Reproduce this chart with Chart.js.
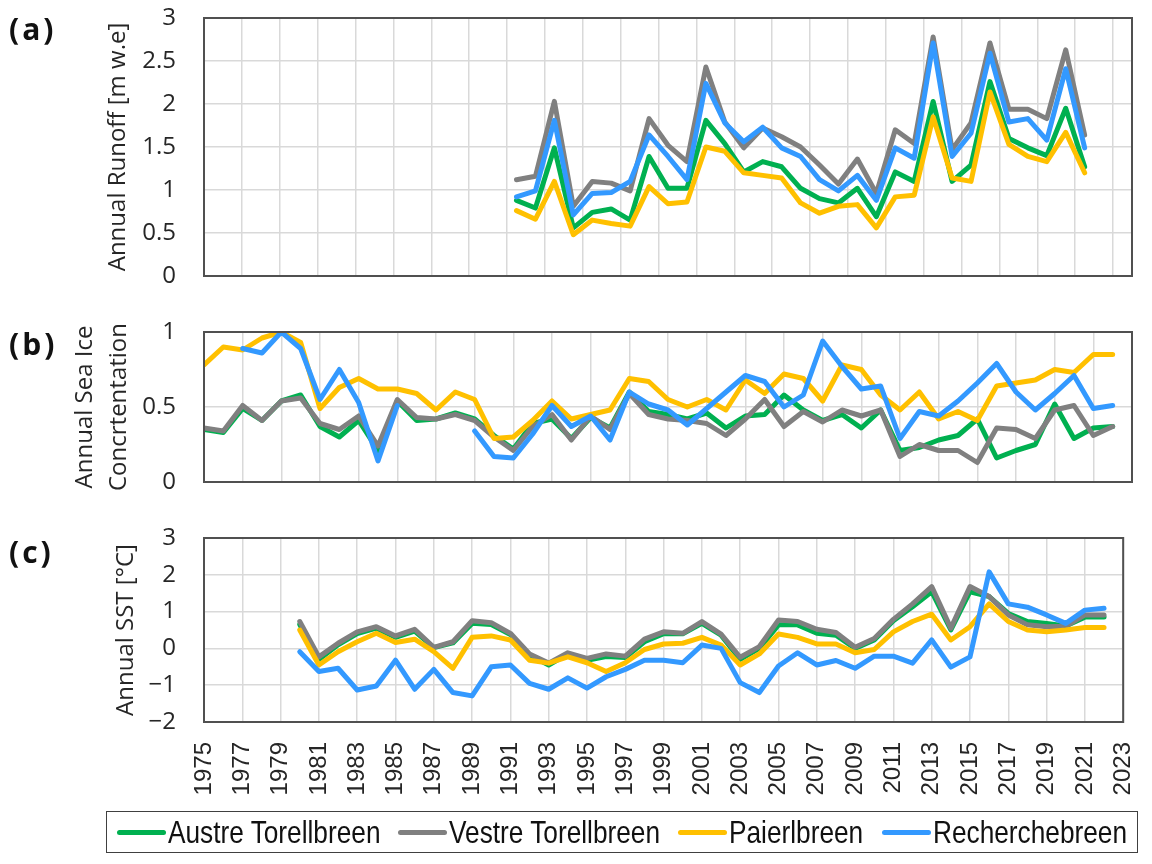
<!DOCTYPE html>
<html>
<head>
<meta charset="utf-8">
<script src="https://cdn.jsdelivr.net/npm/chart.js@4.4.1/dist/chart.umd.min.js"></script>
<style>
  body { margin: 0; background: #fff; }
  #wrap { position: relative; width: 1152px; height: 864px; overflow: hidden; }
  canvas { position: absolute; left: 0; }
  .panel { position: absolute; left: 9px; font: bold 30px "Open Sans", sans-serif; letter-spacing: 3px; line-height: 30px; color: #111; }
  #legend { position: absolute; left: 106px; top: 811px; width: 1030px; height: 40px; border: 1.5px solid #404040;
            display: flex; align-items: center; justify-content: center; }
  .item { display: flex; align-items: center; margin: 0 9px; font: 32px "Liberation Sans", Arial, sans-serif; color: #111; white-space: nowrap; }
  .swatch { width: 49px; height: 5px; border-radius: 3px; margin-right: 2px; }
  .txt { display: inline-block; overflow: visible; }
  .inner { display: inline-block; transform: scaleX(0.82); transform-origin: 0 50%; }
</style>
</head>
<body>
<div id="wrap">
  <canvas id="runoffChart" width="1152" height="292" style="top:0"></canvas>
  <canvas id="iceChart" width="1152" height="200" style="top:300px"></canvas>
  <canvas id="sstChart" width="1152" height="300" style="top:520px"></canvas>
  <div class="panel" style="top:14px">(a)</div>
  <div class="panel" style="top:329px">(b)</div>
  <div class="panel" style="top:537px">(c)</div>
  <div id="legend"></div>
</div>
<script>
// glacier names and colours (same order in every panel)
const glaciers = ["Austre Torellbreen", "Vestre Torellbreen", "Paierlbreen", "Recherchebreen"];
const colors = ["#00B050", "#808080", "#FFC000", "#3399FF"];

// x axis tick labels (shared bottom axis)
const yearTicks = [1975, 1977, 1979, 1981, 1983, 1985, 1987, 1989, 1991, 1993, 1995, 1997, 1999,
                   2001, 2003, 2005, 2007, 2009, 2011, 2013, 2015, 2017, 2019, 2021, 2023];

// (a) annual runoff [m w.e], 1991-2021
const runoffYears = [1991, 1992, 1993, 1994, 1995, 1996, 1997, 1998, 1999, 2000, 2001, 2002, 2003, 2004, 2005, 2006,
                     2007, 2008, 2009, 2010, 2011, 2012, 2013, 2014, 2015, 2016, 2017, 2018, 2019, 2020, 2021];
const runoffAustre = [0.88, 0.79, 1.49, 0.56, 0.74, 0.78, 0.65, 1.39, 1.02, 1.02, 1.81, 1.54, 1.21, 1.33, 1.27, 1.02,
                      0.90, 0.85, 1.02, 0.69, 1.21, 1.10, 2.03, 1.10, 1.29, 2.26, 1.60, 1.49, 1.40, 1.95, 1.27];
const runoffVestre = [1.12, 1.16, 2.03, 0.81, 1.10, 1.08, 0.99, 1.83, 1.52, 1.33, 2.43, 1.79, 1.49, 1.72, 1.62, 1.50,
                      1.29, 1.07, 1.36, 0.96, 1.70, 1.54, 2.78, 1.47, 1.78, 2.71, 1.94, 1.94, 1.83, 2.63, 1.64];
const runoffPaierl = [0.76, 0.66, 1.10, 0.48, 0.65, 0.61, 0.58, 1.04, 0.84, 0.86, 1.50, 1.45, 1.20, 1.17, 1.14, 0.85,
                      0.73, 0.81, 0.83, 0.56, 0.92, 0.94, 1.85, 1.14, 1.10, 2.14, 1.53, 1.39, 1.33, 1.67, 1.20];
const runoffRecherche = [0.92, 0.99, 1.81, 0.71, 0.96, 0.97, 1.10, 1.64, 1.39, 1.12, 2.24, 1.78, 1.56, 1.73, 1.49, 1.39,
                         1.12, 0.99, 1.17, 0.88, 1.49, 1.37, 2.71, 1.39, 1.66, 2.59, 1.79, 1.83, 1.58, 2.41, 1.49];
// panel (a) uses a category style axis: gridlines fall between years
const runoffGrid = [1974.5, 1976.5, 1978.5, 1980.5, 1982.5, 1984.5, 1986.5, 1988.5, 1990.5, 1992.5, 1994.5, 1996.5, 1998.5,
                    2000.5, 2002.5, 2004.5, 2006.5, 2008.5, 2010.5, 2012.5, 2014.5, 2016.5, 2018.5, 2020.5, 2022.5];

// (b) annual sea ice concentration, 1975-2022
const iceYears = [1975, 1976, 1977, 1978, 1979, 1980, 1981, 1982, 1983, 1984, 1985, 1986, 1987, 1988, 1989, 1990,
                  1991, 1992, 1993, 1994, 1995, 1996, 1997, 1998, 1999, 2000, 2001, 2002, 2003, 2004, 2005, 2006,
                  2007, 2008, 2009, 2010, 2011, 2012, 2013, 2014, 2015, 2016, 2017, 2018, 2019, 2020, 2021, 2022];
const iceAustre = [0.35, 0.33, 0.49, 0.41, 0.54, 0.58, 0.37, 0.30, 0.41, 0.21, 0.54, 0.41, 0.42, 0.46, 0.42, 0.31,
                   0.22, 0.39, 0.42, 0.29, 0.43, 0.36, 0.60, 0.47, 0.45, 0.42, 0.46, 0.36, 0.44, 0.45, 0.58, 0.48,
                   0.41, 0.45, 0.36, 0.48, 0.21, 0.23, 0.28, 0.31, 0.42, 0.16, 0.21, 0.25, 0.52, 0.29, 0.36, 0.37];
const iceVestre = [0.36, 0.34, 0.51, 0.41, 0.54, 0.56, 0.39, 0.35, 0.44, 0.24, 0.55, 0.43, 0.42, 0.45, 0.41, 0.30,
                   0.21, 0.37, 0.45, 0.28, 0.44, 0.35, 0.59, 0.45, 0.42, 0.41, 0.39, 0.31, 0.42, 0.55, 0.37, 0.47,
                   0.40, 0.48, 0.44, 0.48, 0.17, 0.25, 0.21, 0.21, 0.13, 0.36, 0.35, 0.29, 0.48, 0.51, 0.31, 0.37];
const icePaierl = [0.78, 0.90, 0.88, 0.96, 1.00, 0.93, 0.49, 0.63, 0.69, 0.62, 0.62, 0.59, 0.48, 0.60, 0.55, 0.29,
                   0.30, 0.41, 0.54, 0.42, 0.45, 0.48, 0.69, 0.67, 0.55, 0.50, 0.55, 0.48, 0.68, 0.59, 0.72, 0.69,
                   0.54, 0.78, 0.75, 0.58, 0.48, 0.60, 0.42, 0.47, 0.41, 0.64, 0.66, 0.68, 0.75, 0.73, 0.85, 0.85];
const iceRecherche = [null, null, 0.89, 0.86, 1.00, 0.89, 0.55, 0.75, 0.53, 0.14, 0.51, null, null, null, 0.34, 0.17,
                      0.16, 0.32, 0.51, 0.37, 0.44, 0.28, 0.60, 0.52, 0.48, 0.38, 0.49, 0.60, 0.71, 0.67, 0.50, 0.58,
                      0.94, 0.77, 0.62, 0.64, 0.29, 0.47, 0.44, 0.54, 0.66, 0.79, 0.60, 0.48, 0.59, 0.71, 0.49, 0.51];

// (c) annual SST [°C], 1980-2022
const sstYears = [1980, 1981, 1982, 1983, 1984, 1985, 1986, 1987, 1988, 1989, 1990, 1991, 1992, 1993, 1994, 1995,
                  1996, 1997, 1998, 1999, 2000, 2001, 2002, 2003, 2004, 2005, 2006, 2007, 2008, 2009, 2010, 2011,
                  2012, 2013, 2014, 2015, 2016, 2017, 2018, 2019, 2020, 2021, 2022];
const sstAustre = [0.65, -0.30, 0.10, 0.40, 0.55, 0.30, 0.47, 0.02, 0.15, 0.68, 0.65, 0.38, -0.18, -0.45, -0.15, -0.32,
                   -0.22, -0.25, 0.18, 0.40, 0.40, 0.68, 0.36, -0.30, 0.00, 0.64, 0.64, 0.41, 0.36, 0.00, 0.23, 0.75,
                   1.13, 1.54, 0.50, 1.54, 1.41, 0.95, 0.73, 0.68, 0.61, 0.85, 0.85];
const sstVestre = [0.73, -0.23, 0.14, 0.45, 0.59, 0.34, 0.52, 0.03, 0.18, 0.75, 0.70, 0.41, -0.15, -0.40, -0.12, -0.27,
                   -0.15, -0.21, 0.25, 0.45, 0.41, 0.73, 0.39, -0.24, 0.05, 0.77, 0.73, 0.52, 0.43, 0.03, 0.27, 0.79,
                   1.21, 1.68, 0.55, 1.68, 1.41, 0.91, 0.64, 0.59, 0.60, 0.91, 0.91];
const sstPaierl = [0.50, -0.45, -0.09, 0.18, 0.41, 0.16, 0.25, -0.09, -0.54, 0.30, 0.34, 0.23, -0.32, -0.40, -0.23, -0.39,
                   -0.63, -0.39, -0.03, 0.12, 0.14, 0.30, 0.09, -0.45, -0.15, 0.39, 0.30, 0.12, 0.12, -0.12, -0.03, 0.45,
                   0.73, 0.93, 0.23, 0.59, 1.21, 0.73, 0.50, 0.45, 0.50, 0.57, 0.57];
const sstRecherche = [-0.09, -0.63, -0.54, -1.13, -1.02, -0.32, -1.11, -0.57, -1.20, -1.29, -0.50, -0.45, -0.95, -1.11, -0.80, -1.08,
                      -0.77, -0.57, -0.32, -0.32, -0.39, 0.09, 0.00, -0.93, -1.20, -0.48, -0.12, -0.45, -0.33, -0.54, -0.21, -0.21,
                      -0.40, 0.23, -0.51, -0.23, 2.08, 1.21, 1.12, 0.91, 0.68, 1.04, 1.09];

const gridColor = "#D9D9D9";
const textColor = "#262626";
const plotLeft = 204; // left edge of every plot area

Chart.defaults.font.family = "'Open Sans', sans-serif";
Chart.defaults.color = textColor;

// dark frame round the plot area
const framePlugin = {
    id: "frame",
    afterDraw(chart) {
        const { ctx, chartArea: a } = chart;
        ctx.save();
        ctx.strokeStyle = "#505050";
        ctx.lineWidth = 2;
        ctx.strokeRect(a.left, a.top, a.right - a.left, a.bottom - a.top);
        ctx.restore();
    }
};

function makeDatasets(years, series) {
    // blue drawn on top, green at the bottom
    return series.map((vals, i) => ({
        label: glaciers[i],
        data: years.map((yr, j) => ({ x: yr, y: vals[j] })),
        borderColor: colors[i],
        backgroundColor: colors[i],
        borderWidth: 5,
        pointRadius: 0,
        borderCapStyle: "round",
        borderJoinStyle: "round",
        tension: 0,
        spanGaps: false,
        order: 4 - i
    }));
}

// tick padding is done with invisible tick marks, so it does not push the plot area around
function xAxis(min, max, gridValues, showLabels) {
    return {
        type: "linear",
        min: min,
        max: max,
        afterBuildTicks: s => { s.ticks = gridValues.map(v => ({ value: v })); },
        afterFit: s => { s.height = showLabels ? 98 : 0; },
        grid: { color: gridColor, lineWidth: 1.5, drawTicks: showLabels, tickLength: 20, tickColor: "rgba(0,0,0,0)" },
        border: { display: false },
        ticks: {
            display: showLabels,
            autoSkip: false,
            maxRotation: 90,
            minRotation: 90,
            padding: 0,
            color: textColor,
            font: { family: "'Liberation Sans', Arial, sans-serif", size: 24 },
            callback: v => String(v)
        }
    };
}

function yAxis(min, max, step, title, leftPad, lineHeight, fmt) {
    return {
        min: min,
        max: max,
        afterFit: s => { s.width = plotLeft - leftPad; },
        grid: { color: gridColor, lineWidth: 1.5, drawTicks: true, tickLength: 28, tickColor: "rgba(0,0,0,0)" },
        border: { display: false },
        ticks: {
            stepSize: step,
            padding: 0,
            font: { size: 24 },
            callback: fmt || (v => String(v))
        },
        title: {
            display: true,
            text: title,
            color: textColor,
            padding: 0,
            font: { size: 24, lineHeight: lineHeight }
        }
    };
}

function baseOptions(padding, scales) {
    return {
        responsive: false,
        animation: false,
        layout: { padding: padding },
        plugins: { legend: { display: false }, tooltip: { enabled: false } },
        scales: scales
    };
}

// (a) runoff
new Chart(document.getElementById("runoffChart"), {
    type: "line",
    data: { datasets: makeDatasets(runoffYears, [runoffAustre, runoffVestre, runoffPaierl, runoffRecherche]) },
    options: baseOptions({ left: 106, top: 18, right: 20, bottom: 16 }, {
        x: xAxis(1974.5, 2023.5, runoffGrid, false),
        y: yAxis(0, 3, 0.5, "Annual Runoff [m w.e]", 106, "24px")
    }),
    plugins: [framePlugin]
});

// (b) sea ice
new Chart(document.getElementById("iceChart"), {
    type: "line",
    data: { datasets: makeDatasets(iceYears, [iceAustre, iceVestre, icePaierl, iceRecherche]) },
    options: baseOptions({ left: 68, top: 32, right: 20, bottom: 18 }, {
        x: xAxis(1975, 2023, yearTicks, false),
        y: yAxis(0, 1, 0.5, ["Annual Sea Ice", "Concrtentation"], 68, "34px")
    }),
    plugins: [framePlugin]
});

// (c) SST, carries the shared year axis
new Chart(document.getElementById("sstChart"), {
    type: "line",
    data: { datasets: makeDatasets(sstYears, [sstAustre, sstVestre, sstPaierl, sstRecherche]) },
    options: baseOptions({ left: 114, top: 18, right: 20, bottom: 0 }, {
        x: xAxis(1975, 2023, yearTicks, true),
        y: yAxis(-2, 3, 1, "Annual SST [°C]", 114, "24px", v => (v < 0 ? "\u2212" + Math.abs(v) : String(v)))
    }),
    plugins: [framePlugin]
});

// legend box at the bottom, text squeezed to a narrow face
const legend = document.getElementById("legend");
glaciers.forEach((name, i) => {
    legend.innerHTML += `
        <div class="item"><span class="swatch" style="background:${colors[i]}"></span><span class="txt"><span class="inner">${name}</span></span></div>`;
});
legend.querySelectorAll(".txt").forEach(t => {
    t.style.width = (t.firstElementChild.offsetWidth * 0.82) + "px";
});
</script>
</body>
</html>
